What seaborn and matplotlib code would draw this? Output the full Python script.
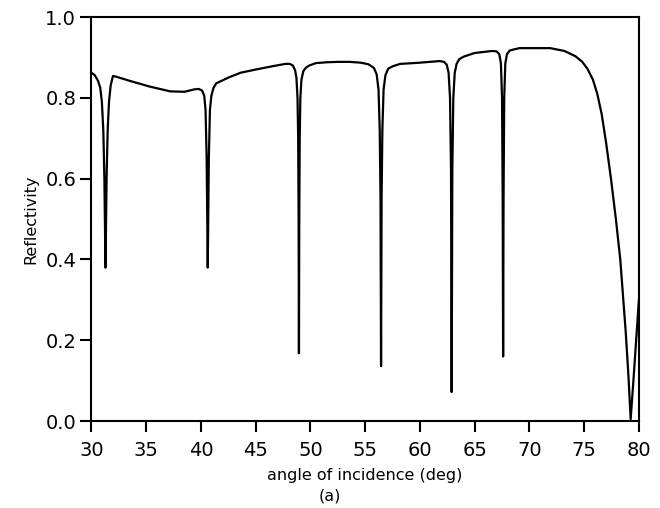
import matplotlib
matplotlib.use("Agg")
import matplotlib.pyplot as plt
import seaborn as sns
import pandas as pd

# Points (angle in deg, reflectivity)
angle = [30.0, 30.3, 30.6, 30.8, 30.95, 31.08, 31.18, 31.28, 31.38, 31.48, 31.6, 31.75, 31.96, 32.3,
         33.5, 35.3, 37.2, 38.5, 39.4, 39.8, 40.1, 40.3, 40.42, 40.52, 40.62, 40.72, 40.82, 40.95, 41.15, 41.4,
         42.5, 43.6, 45.0, 46.3, 47.7, 48.1, 48.4, 48.6, 48.72, 48.82, 48.88, 48.92, 48.95, 48.98, 49.02, 49.08,
         49.18, 49.35, 49.6, 49.9, 50.5,
         51.5, 52.5, 53.6, 54.6, 55.3, 55.8, 56.05, 56.22, 56.33, 56.4, 56.45, 56.5, 56.57, 56.68, 56.85, 57.1, 57.5,
         58.2, 60.0, 61.8, 62.2, 62.45, 62.62, 62.75, 62.84, 62.9, 62.96, 63.05, 63.18, 63.35, 63.6, 64.0,
         65.0, 66.6, 67.0, 67.25, 67.4, 67.5, 67.56, 67.6, 67.64, 67.7, 67.8, 67.95, 68.2, 68.6,
         69.1, 71.9, 73.2, 74.2, 74.8, 75.3, 75.8, 76.2, 76.6, 77.0, 77.45, 77.9, 78.3, 78.8, 79.05, 79.25,
         79.5, 79.75, 80.0]
reflectivity = [0.862, 0.856, 0.842, 0.825, 0.79, 0.72, 0.60, 0.38, 0.60, 0.72, 0.79, 0.83, 0.854, 0.852,
                0.842, 0.828, 0.816, 0.815, 0.821, 0.822, 0.818, 0.805, 0.77, 0.65, 0.38, 0.65, 0.77, 0.805, 0.825, 0.836,
                0.85, 0.862, 0.870, 0.877, 0.884, 0.884, 0.880, 0.868, 0.85, 0.80, 0.70, 0.50, 0.168, 0.50, 0.70, 0.80,
                0.845, 0.866, 0.875, 0.880, 0.886,
                0.888, 0.889, 0.889, 0.887, 0.883, 0.874, 0.858, 0.82, 0.72, 0.55, 0.136, 0.55, 0.72, 0.82, 0.856, 0.872, 0.878,
                0.884, 0.887, 0.891, 0.889, 0.882, 0.862, 0.80, 0.62, 0.072, 0.62, 0.80, 0.862, 0.884, 0.896, 0.902,
                0.911, 0.916, 0.915, 0.908, 0.885, 0.80, 0.55, 0.16, 0.55, 0.80, 0.885, 0.908, 0.917, 0.920,
                0.923, 0.923, 0.916, 0.903, 0.89, 0.872, 0.845, 0.81, 0.76, 0.69, 0.60, 0.50, 0.40, 0.22, 0.11, 0.005,
                0.10, 0.20, 0.30]

xticks = [30, 35, 40, 45, 50, 55, 60, 65, 70, 75, 80]
yticks = [0.0, 0.2, 0.4, 0.6, 0.8, 1.0]

df = pd.DataFrame({"angle": angle, "reflectivity": reflectivity})

sns.set_style("ticks")
plt.rcParams["font.family"] = ["DejaVu Sans"]

fig = plt.figure(figsize=(6.6, 5.08), dpi=100)
ax = fig.add_axes([0.1386, 0.171, 0.8294, 0.7955])

sns.lineplot(data=df, x="angle", y="reflectivity", color="black", linewidth=1.6,
             estimator=None, sort=False, ax=ax)

ax.set_xlim(30, 80)
ax.set_ylim(0, 1.0)
ax.set_xticks(xticks)
ax.set_xticklabels([str(t) for t in xticks])
ax.set_yticks(yticks)
ax.set_yticklabels([f"{t:.1f}" for t in yticks])
ax.tick_params(axis="both", direction="out", length=8, width=1.5, labelsize=14, colors="black")
ax.tick_params(axis="x", pad=6)
ax.tick_params(axis="y", pad=3)
for s in ax.spines.values():
    s.set_linewidth(1.5)
    s.set_color("black")

ax.set_xlabel("angle of incidence (deg)", fontsize=11.5, labelpad=6, color="black")
ax.set_ylabel("Reflectivity", fontsize=11.5, labelpad=5, color="black")
fig.text(0.5, 0.008, "(a)", ha="center", va="bottom", fontsize=11.5, color="black")

fig.savefig("out.png", dpi=100)
